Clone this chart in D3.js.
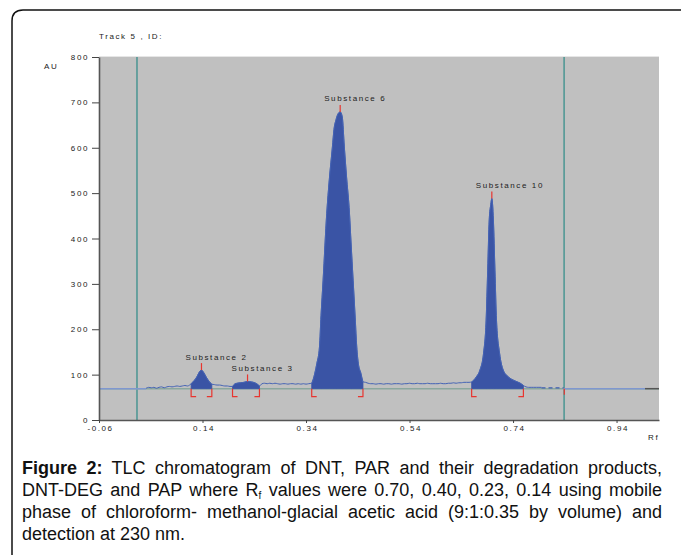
<!DOCTYPE html>
<html>
<head>
<meta charset="utf-8">
<script src="https://cdn.jsdelivr.net/npm/d3@7"></script>
<style>
  html, body { margin: 0; padding: 0; background: #fff; }
  #wrap { position: relative; width: 683px; height: 555px; overflow: hidden; }
  svg { position: absolute; left: 0; top: 0; }
  #caption { position: absolute; left: 22px; top: 457px; width: 640px;
    font-family: "Liberation Sans", Arial, sans-serif; font-size: 18px; line-height: 22px; color: #111; }
  #caption .ln { text-align: justify; text-align-last: justify; white-space: nowrap; }
  #caption .last { text-align: left; text-align-last: left; }
  #caption sub { font-size: 10px; vertical-align: -3px; line-height: 0; }
  .small { font-family: "Liberation Sans", Arial, sans-serif; font-size: 8px; letter-spacing: 1.6px; fill: #222; }
</style>
</head>
<body>
<div id="wrap">
<svg id="chart" width="683" height="555"></svg>
<div id="caption">
  <div class="ln"><b>Figure 2:</b> TLC chromatogram of DNT, PAR and their degradation products,</div>
  <div class="ln">DNT-DEG and PAP where R<sub>f</sub> values were 0.70, 0.40, 0.23, 0.14 using mobile</div>
  <div class="ln">phase of chloroform- methanol-glacial acetic acid (9:1:0.35 by volume) and</div>
  <div class="ln last">detection at 230 nm.</div>
</div>
</div>
<script>
// ---------- data ----------
const xDomain = [-0.06, 1.022];
const yDomain = [0, 800];
const xTicks = [-0.06, 0.14, 0.34, 0.54, 0.74, 0.94];
const yTicks = [0, 100, 200, 300, 400, 500, 600, 700, 800];
const baselineAU = 69;
const trackMarkers = [0.0134, 0.8386];   // vertical teal lines
const extraRedMark = [0.839];

const peakNames = ["Substance 2", "Substance 3", "Substance 6", "Substance 10"];
const peakRf    = [0.138, 0.227, 0.406, 0.699];
const peakAU    = [110, 85, 679, 488];
const peakStart = [0.118, 0.198, 0.351, 0.660];
const peakEnd   = [0.158, 0.250, 0.450, 0.760];

// scanned signal (Rf, AU)
const traceRf = [0.031,0.036,0.041,0.046,0.051,0.056,0.061,0.066,0.071,0.076,0.081,0.086,0.091,0.096,0.101,0.106,0.111,0.115,
  0.118,0.124,0.129,0.133,0.138,0.142,0.147,0.152,0.158,
  0.163,0.168,0.173,0.178,0.183,0.188,0.193,0.198,
  0.203,0.213,0.220,0.227,0.234,0.241,0.247,0.250,
  0.255,0.260,0.265,0.270,0.275,0.280,0.285,0.290,0.295,0.300,0.305,0.310,0.315,0.320,0.325,0.330,0.335,0.340,0.345,
  0.351,0.357,0.361,0.366,0.369,0.373,0.380,0.385,0.391,0.394,0.398,0.402,0.406,0.410,0.414,0.418,0.424,0.427,0.431,0.435,0.438,0.441,0.446,0.450,
  0.455,0.460,0.465,0.470,0.475,0.480,0.485,0.490,0.495,0.500,0.505,0.510,0.515,0.520,0.525,0.530,0.535,0.540,0.545,0.550,0.555,0.560,0.565,0.570,0.575,0.580,0.585,0.590,0.595,0.600,0.605,0.610,0.615,0.620,0.625,0.630,0.635,0.640,0.645,0.650,0.655,
  0.660,0.669,0.676,0.683,0.688,0.691,0.694,0.697,0.699,0.702,0.705,0.708,0.714,0.721,0.731,0.744,0.754,0.760,
  0.765,0.770,0.775,0.780,0.785,0.790,0.795];
const traceAU = [70,72,71,72,70,72,73,71,73,74,73,74,75,74,75,76,75,77,
  80,87,95,104,110,105,95,86,79,
  78,77,77,76,75,75,74,74,
  80,82,83,85,84,82,78,75,
  80,81,80,81,80,81,80,79,80,80,79,80,80,79,80,79,80,79,80,
  81,103,125,161,230,308,455,530,602,640,662,675,679,668,602,540,455,390,308,225,161,125,103,84,
  83,81,80,80,79,80,80,79,80,80,79,80,80,80,79,80,80,81,80,80,81,80,80,80,81,80,80,80,80,81,80,80,81,81,82,81,82,82,83,83,83,
  84,95,110,147,220,330,441,475,488,441,330,220,147,110,95,86,81,76,
  73,72,72,72,72,72,72];

// flat / dashed segments of the scan outside the signal
const preSignalRf = [-0.06, 0.031];
const tailDashRf = [0.795, 0.838];
const tailDashAU = 71;
const tailFlatRf = [0.838, 0.995];
const tailEndRf = [0.995, 1.022];

// ---------- drawing ----------
const svg = d3.select("#chart");
const x = d3.scaleLinear().domain(xDomain).range([99, 659]);
const y = d3.scaleLinear().domain(yDomain).range([420, 57]);
const yb = y(baselineAU);

// outer frame
svg.append("path")
  .attr("d", "M12,555 V21 Q12,10 23,10 H681")
  .attr("fill", "none").attr("stroke", "#111").attr("stroke-width", 1.5);

// plot background
svg.append("rect")
  .attr("x", x(xDomain[0])).attr("y", y(yDomain[1]))
  .attr("width", x(xDomain[1]) - x(xDomain[0])).attr("height", y(0) - y(yDomain[1]))
  .attr("fill", "#c0c0c0");
svg.append("line")
  .attr("x1", x(xDomain[0])).attr("x2", x(xDomain[1]))
  .attr("y1", y(yDomain[1]) - 0.5).attr("y2", y(yDomain[1]) - 0.5)
  .attr("stroke", "#e6e6e6").attr("stroke-width", 1);

// vertical track markers
svg.selectAll("line.marker").data(trackMarkers).enter().append("line")
  .attr("class", "marker")
  .attr("x1", d => x(d)).attr("x2", d => x(d))
  .attr("y1", y(yDomain[1])).attr("y2", y(0))
  .attr("stroke", "#2c8a86").attr("stroke-width", 1.2);

// baseline
svg.append("line")
  .attr("x1", x(xDomain[0])).attr("x2", x(xDomain[1]))
  .attr("y1", yb).attr("y2", yb)
  .attr("stroke", "#8aa79e").attr("stroke-width", 1.5);

const pts = traceRf.map((r, i) => [r, traceAU[i]]);

// peak fills
peakStart.forEach((s, i) => {
  const e = peakEnd[i];
  const seg = pts.filter(p => p[0] >= s - 1e-9 && p[0] <= e + 1e-9);
  const area = d3.area()
    .x(p => x(p[0])).y0(yb).y1(p => y(p[1]))
    .curve(d3.curveMonotoneX);
  svg.append("path").attr("d", area(seg))
    .attr("fill", "#3a54a5").attr("stroke", "#3a54a5").attr("stroke-width", 0.8);
});

// trace line
const line = d3.line().x(p => x(p[0])).y(p => y(p[1])).curve(d3.curveMonotoneX);
svg.append("path").attr("d", line(pts))
  .attr("fill", "none").attr("stroke", "#4463b5").attr("stroke-width", 1);

// pre-signal flat segment
svg.append("line")
  .attr("x1", x(preSignalRf[0])).attr("x2", x(preSignalRf[1]))
  .attr("y1", yb).attr("y2", yb)
  .attr("stroke", "#7f97cf").attr("stroke-width", 1.5);
// tail dashed
svg.append("line")
  .attr("x1", x(tailDashRf[0])).attr("x2", x(tailDashRf[1]))
  .attr("y1", y(tailDashAU)).attr("y2", y(tailDashAU))
  .attr("stroke", "#3d5cb0").attr("stroke-width", 1.2)
  .attr("stroke-dasharray", "4,3");
svg.append("line")
  .attr("x1", x(tailFlatRf[0])).attr("x2", x(tailFlatRf[1]))
  .attr("y1", yb).attr("y2", yb)
  .attr("stroke", "#7f97cf").attr("stroke-width", 1.5);
svg.append("line")
  .attr("x1", x(tailEndRf[0])).attr("x2", x(tailEndRf[1]))
  .attr("y1", yb).attr("y2", yb)
  .attr("stroke", "#555").attr("stroke-width", 1.5);

// red brackets
const red = "#e8352f";
peakStart.forEach((s, i) => {
  const xs = x(s), xe = x(peakEnd[i]);
  svg.append("path").attr("d", `M${xs},${yb} V${yb + 8} H${xs + 5}`)
    .attr("fill", "none").attr("stroke", red).attr("stroke-width", 1.2);
  svg.append("path").attr("d", `M${xe},${yb} V${yb + 8} H${xe - 5}`)
    .attr("fill", "none").attr("stroke", red).attr("stroke-width", 1.2);
  // apex tick
  const px = x(peakRf[i]), py = y(peakAU[i]);
  svg.append("line").attr("x1", px).attr("x2", px).attr("y1", py).attr("y2", py - 7)
    .attr("stroke", red).attr("stroke-width", 1.2);
  // label
  svg.append("text").attr("class", "small")
    .attr("x", px - 16).attr("y", py - 10.5)
    .text(peakNames[i]);
});
extraRedMark.forEach(r => {
  svg.append("line").attr("x1", x(r)).attr("x2", x(r)).attr("y1", yb).attr("y2", yb + 6)
    .attr("stroke", red).attr("stroke-width", 1.2);
});

// axes
const yAxis = svg.append("g").attr("transform", `translate(${x(xDomain[0])},0)`)
  .call(d3.axisLeft(y).tickValues(yTicks).tickSize(7).tickSizeOuter(0).tickPadding(3).tickFormat(d3.format("d")));
const xAxis = svg.append("g").attr("transform", `translate(0,${y(0)})`)
  .call(d3.axisBottom(x).tickValues(xTicks).tickSize(3).tickSizeOuter(0).tickPadding(2).tickFormat(d => d.toFixed(2)));
[yAxis, xAxis].forEach(g => {
  g.select(".domain").attr("stroke", "#555").attr("stroke-width", 1.6);
  g.selectAll(".tick line").attr("stroke", "#444");
  g.selectAll(".tick text").attr("class", "small").attr("fill", "#222")
    .style("font-family", null).style("font-size", null);
  g.attr("font-family", null).attr("font-size", null);
});
xAxis.selectAll(".tick text").attr("dx", 1);

// titles
svg.append("text").attr("class", "small").attr("x", 99).attr("y", 39).text("Track  5 , ID:");
svg.append("text").attr("class", "small").attr("x", 44).attr("y", 69).text("AU");
svg.append("text").attr("class", "small").attr("x", 648).attr("y", 440).text("Rf");
</script>
</body>
</html>
